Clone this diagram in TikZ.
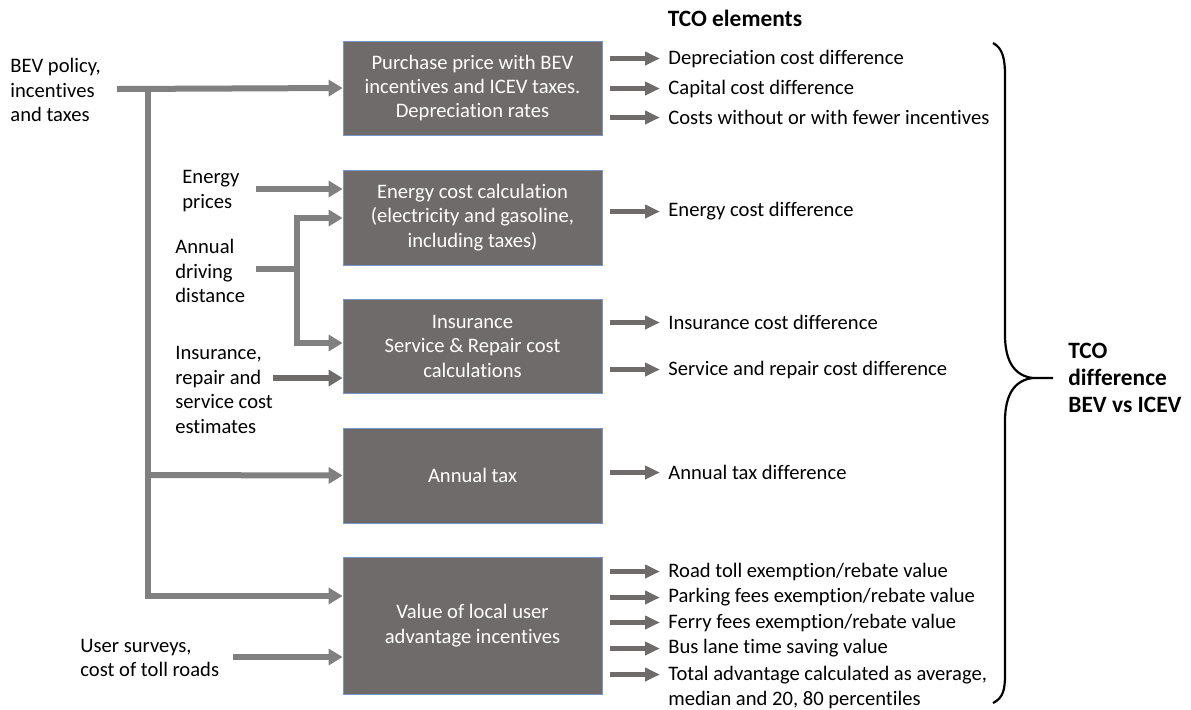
\documentclass[tikz,border=0pt]{standalone}
\usepackage{fontspec}
\setmainfont{Carlito}[Ligatures=NoCommon]
\usepackage{tikz}
\usetikzlibrary{arrows.meta}

\definecolor{boxgray}{RGB}{111,107,107}
\definecolor{boxline}{RGB}{120,150,200}
\definecolor{feedgray}{RGB}{128,128,128}

\tikzset{
  every node/.style={font=\fontsize{10.3}{12.25}\selectfont},
  box/.style={fill=boxgray, draw=boxline, line width=0.4pt, text=white, align=center,
    minimum width=129.5pt, inner sep=0pt},
  lbl/.style={align=left, anchor=west, inner sep=0pt},
  bold/.style={font=\fontsize{11.7}{13.5}\selectfont\bfseries},
  feed/.style={draw=feedgray, line width=3pt, -{Triangle[length=7pt,width=8pt]}},
  outarr/.style={draw=boxgray, line width=2.5pt, -{Triangle[length=7.5pt,width=6.5pt]}},
}

\begin{document}
\begin{tikzpicture}[x=0.5pt, y=-0.5pt]
        \useasboundingbox (0,0) rectangle (1191,709);

        % calculation boxes
        \node[box, minimum height=47pt] (pp) at (472.5,88) {Purchase price with BEV\\incentives and ICEV taxes.\\Depreciation rates};
        \node[box, minimum height=47.5pt] (ec) at (472.5,217.5) {Energy cost calculation\\(electricity and gasoline,\\including taxes)};
        \node[box, minimum height=47pt] (ins) at (472.5,346) {Insurance\\Service \& Repair cost\\calculations};
        \node[box, minimum height=47.5pt] (tax) at (472.5,475.5) {Annual tax};
        \node[box, minimum height=68.5pt] (vl) at (472.5,625.5) {Value of local user\\advantage incentives};

        % inputs
        \node[lbl] (bev) at (10,90) {BEV policy,\\incentives\\and taxes};
        \node[lbl] (ep) at (182,191) {Energy\\prices};
        \node[lbl] (dd) at (175,271) {Annual\\driving\\distance};
        \node[lbl] (ir) at (175,390) {Insurance,\\repair and\\service cost\\estimates};
        \node[lbl] (us) at (80,658) {User surveys,\\cost of toll roads};

        \coordinate (bevS) at (117,89);
        \coordinate (busTop) at (148,89);
        \coordinate (busTax) at (148,475);
        \coordinate (busBot) at (148,596);
        \coordinate (epS) at (256,189);
        \coordinate (ddS) at (256,269);
        \coordinate (ddJ) at (297,269);
        \coordinate (ddUp) at (297,218);
        \coordinate (ddDn) at (297,343);
        \coordinate (irS) at (273,378);
        \coordinate (usS) at (233,657);

        \draw[feed] (bevS) -- (pp.west); % policy into purchase price
        \draw[feed] (busTop) -- (busBot) -- (busBot -| vl.west); % policy bus down to local incentives
        \draw[feed] (busTax) -- (tax.west); % policy into annual tax
        \draw[feed] (epS) -- (epS -| ec.west);
        \draw[feed] (ddS) -- (ddJ) |- (ec.west |- ddUp); % driving distance to energy cost
        \draw[feed] (ddJ) |- (ins.west |- ddDn); % driving distance to insurance
        \draw[feed, draw=boxgray] (irS) -- (irS -| ins.west);
        \draw[feed] (usS) -- (usS -| vl.west);

        % TCO elements
        \node[bold] (head) at (735,18) {TCO elements};

        \node[lbl] (o1) at (668,58.5) {Depreciation cost difference};
        \node[lbl] (o2) at (668,88.5) {Capital cost difference};
        \node[lbl] (o3) at (668,117.5) {Costs without or with fewer incentives};
        \node[lbl] (o4) at (668,211.5) {Energy cost difference};
        \node[lbl] (o5) at (668,322.5) {Insurance cost difference};
        \node[lbl] (o6) at (668,369.5) {Service and repair cost difference};
        \node[lbl] (o7) at (668,472.5) {Annual tax difference};
        \node[lbl] (o8) at (668,571.5) {Road toll exemption/rebate value};
        \node[lbl] (o9) at (668,597.5) {Parking fees exemption/rebate value};
        \node[lbl] (o10) at (668,622.5) {Ferry fees exemption/rebate value};
        \node[lbl] (o11) at (668,648.5) {Bus lane time saving value};
        \node[lbl] (o12) at (668,687.5) {Total advantage calculated as average,\\median and 20, 80 percentiles};

        \foreach \o in {o1,o2,o3}
          \draw[outarr] ([xshift=4pt]pp.east |- \o.west) -- ([xshift=-4pt]\o.west);
        \draw[outarr] ([xshift=4pt]ec.east |- o4.west) -- ([xshift=-4pt]o4.west);
        \foreach \o in {o5,o6}
          \draw[outarr] ([xshift=4pt]ins.east |- \o.west) -- ([xshift=-4pt]\o.west);
        \draw[outarr] ([xshift=4pt]tax.east |- o7.west) -- ([xshift=-4pt]o7.west);
        \foreach \o in {o8,o9,o10,o11}
          \draw[outarr] ([xshift=4pt]vl.east |- \o.west) -- ([xshift=-4pt]\o.west);
        \draw[outarr] ([xshift=4pt,yshift=6.5pt]vl.east |- o12.west) -- ([xshift=-4pt,yshift=6.5pt]o12.west);

        % brace and total
        \draw[line width=1.1pt] (993,43) .. controls (1003,48) and (1005,60) .. (1005,75)
          -- (1005,335) .. controls (1005,362) and (1015,376) .. (1033,378) -- (1053,378)
          (1033,378) .. controls (1015,380) and (1005,394) .. (1005,421)
          -- (1005,675) .. controls (1005,690) and (1003,698) .. (993,703);
        \node[lbl, bold] (tco) at (1068,378) {TCO\\difference\\BEV vs ICEV};
    \end{tikzpicture}
\end{document}
